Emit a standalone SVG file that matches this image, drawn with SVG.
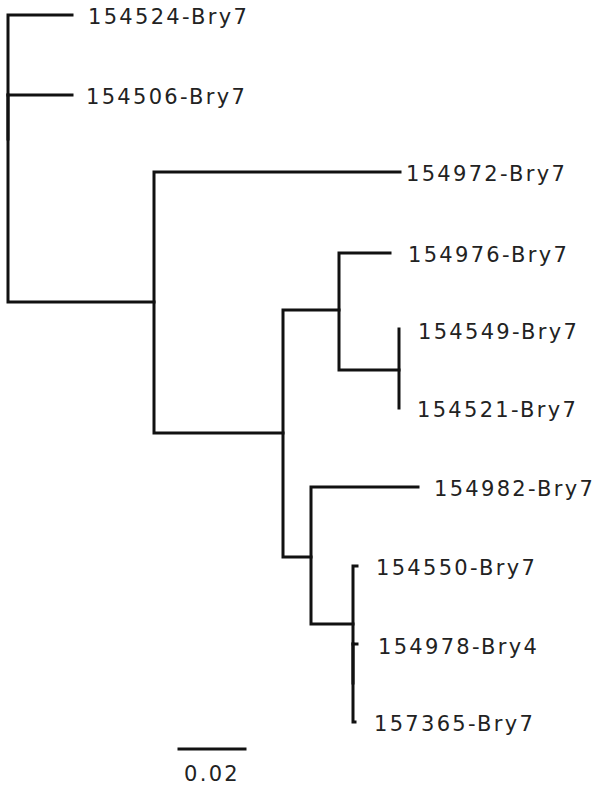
<svg xmlns="http://www.w3.org/2000/svg" width="596" height="788" viewBox="0 0 596 788">
<style>
.e{fill:none;stroke:#111;stroke-width:3;stroke-linecap:square;stroke-linejoin:miter}
.t{font-family:"DejaVu Sans","Liberation Sans",sans-serif;font-size:21px;letter-spacing:2.3px;fill:#222}
</style>
<rect width="596" height="788" fill="#fff"/>
<g id="connectors">
<path class="e" d="M72,15 H8 V302 H154"/>
<path class="e" d="M72,95 H8"/>
<path class="e" d="M8,95 V139" stroke-width="4"/>
<path class="e" d="M400,172 H154 V433 H283"/>
<path class="e" d="M339,310 H283 V557 H311"/>
<path class="e" d="M390,253 H339 V370 H399"/>
<path class="e" d="M399,329 V408"/>
<path class="e" d="M418,487 H311 V624 H353"/>
<path class="e" d="M357,566 H353 V722 H355"/>
<path class="e" d="M353,644 H357"/>
<path class="e" d="M353,644 V683" stroke-width="4"/>
<path class="e" d="M179,749 H245" stroke-linecap="butt" stroke-width="2"/>
</g>
<g id="n154524"><text class="t" x="88" y="24">154524-Bry7</text></g>
<g id="n154506"><text class="t" x="86" y="104">154506-Bry7</text></g>
<g id="n154972"><text class="t" x="406" y="181">154972-Bry7</text></g>
<g id="n154976"><text class="t" x="408" y="262">154976-Bry7</text></g>
<g id="n154549"><text class="t" x="418" y="339">154549-Bry7</text></g>
<g id="n154521"><text class="t" x="417" y="417">154521-Bry7</text></g>
<g id="n154982"><text class="t" x="434" y="496">154982-Bry7</text></g>
<g id="n154550"><text class="t" x="376" y="575">154550-Bry7</text></g>
<g id="n154978"><text class="t" x="378" y="654">154978-Bry4</text></g>
<g id="n157365"><text class="t" x="374" y="731">157365-Bry7</text></g>
<g id="scale"><text class="t" x="212" y="781" text-anchor="middle">0.02</text></g>
</svg>
